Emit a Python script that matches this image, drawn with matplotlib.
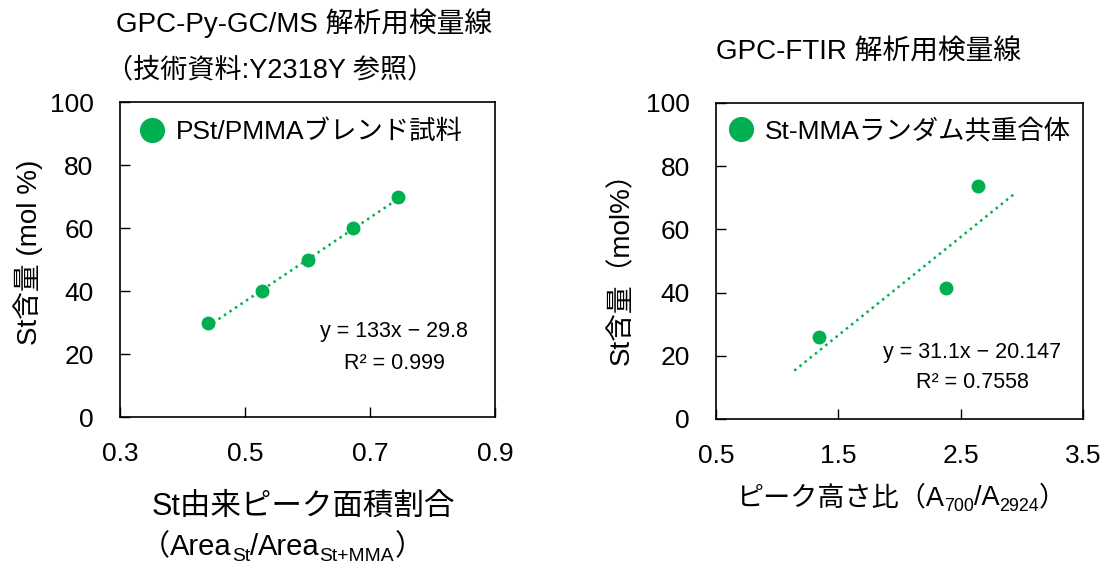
import numpy as np
import matplotlib.pyplot as plt

plt.rcParams['font.family'] = ['Liberation Sans', 'Noto Sans CJK JP']

GREEN = '#00B050'
W, H = 1105, 564

# GPC-Py-GC/MS calibration (PSt/PMMA blends)
pygc_area_ratio = [0.44, 0.527, 0.60, 0.673, 0.745]
pygc_st_content = [30, 40, 50, 60, 70]
pygc_slope, pygc_intercept, pygc_r2 = 133, -29.8, '0.999'

# GPC-FTIR calibration (St-MMA random copolymers)
ftir_peak_ratio = [1.34, 2.38, 2.64]
ftir_st_content = [25.9, 41.4, 73.7]
ftir_slope, ftir_intercept, ftir_r2 = 31.1, -20.147, '0.7558'
ftir_forecast = (0.2, 0.3)  # trendline extended backward / forward


def px(x, y):
    # pixel position -> figure fraction
    return x / W, 1 - y / H


def chain_text(ax, x, y, parts, size):
    # draws text pieces one after another on a common baseline, subscripts lowered
    prev = None
    for s, sub in parts:
        fs = size * 0.66 if sub else size
        yy = y + 6 if sub else y
        if prev is None:
            prev = ax.annotate(s, xy=px(x, yy), xycoords='figure fraction', fontsize=fs,
                               va='baseline', ha='left', annotation_clip=False)
        else:
            prev = ax.annotate(s, xy=(1, px(0, yy)[1]), xycoords=(prev, 'figure fraction'),
                               fontsize=fs, va='baseline', ha='left', annotation_clip=False)


def style_axes(ax, xticks, yticks):
    ax.set_xlim(xticks[0], xticks[-1])
    ax.set_ylim(yticks[0], yticks[-1])
    ax.set_xticks(xticks)
    ax.set_yticks(yticks)
    ax.tick_params(direction='in', length=7, width=1, labelsize=19, color='black')
    ax.tick_params(axis='x', pad=18)
    ax.tick_params(axis='y', pad=19)
    for sp in ax.spines.values():
        sp.set_linewidth(1.2)
        sp.set_color('black')


def calib_plot(ax, x, y, slope, intercept, r2, label, x_range, eq_pos):
    xx = np.linspace(x_range[0], x_range[1], 50)
    ax.plot(xx, slope * xx + intercept, ':', color=GREEN, lw=1.8, zorder=2)
    ax.plot(x, y, 'o', color=GREEN, ms=9, label=label, zorder=3)
    eq = 'y = %gx − %g' % (slope, abs(intercept))
    ax.text(eq_pos[0], eq_pos[1], eq, transform=ax.transAxes, ha='center', va='center', fontsize=15.5)
    ax.text(eq_pos[0], eq_pos[2], 'R² = ' + r2, transform=ax.transAxes, ha='center', va='center', fontsize=15.5)


fig = plt.figure(figsize=(W / 100, H / 100), dpi=100)

ax1 = fig.add_axes([0.1086, 0.2606, 0.3394, 0.5585])
calib_plot(ax1, pygc_area_ratio, pygc_st_content, pygc_slope, pygc_intercept, pygc_r2,
           'PSt/PMMAブレンド試料', (min(pygc_area_ratio), max(pygc_area_ratio)), (0.731, 0.273, 0.171))
style_axes(ax1, [0.3, 0.5, 0.7, 0.9], [0, 20, 40, 60, 80, 100])
ax1.legend(loc='center left', bbox_to_anchor=(0.051, 0.905), frameon=False, fontsize=19,
           markerscale=1.9, handlelength=1.0, handletextpad=0.4, borderpad=0, borderaxespad=0)

ax2 = fig.add_axes([0.648, 0.2571, 0.3321, 0.5603])
calib_plot(ax2, ftir_peak_ratio, ftir_st_content, ftir_slope, ftir_intercept, ftir_r2,
           'St-MMAランダム共重合体',
           (min(ftir_peak_ratio) - ftir_forecast[0], max(ftir_peak_ratio) + ftir_forecast[1]),
           (0.698, 0.212, 0.117))
style_axes(ax2, [0.5, 1.5, 2.5, 3.5], [0, 20, 40, 60, 80, 100])
ax2.legend(loc='center left', bbox_to_anchor=(0.033, 0.911), frameon=False, fontsize=19,
           markerscale=1.9, handlelength=1.0, handletextpad=0.4, borderpad=0, borderaxespad=0)

# titles
fig.text(*px(116, 23), 'GPC-Py-GC/MS 解析用検量線', fontsize=20, va='center')
fig.text(*px(106, 70), '（技術資料:Y2318Y 参照）', fontsize=19.5, va='center')
fig.text(*px(716, 53), 'GPC-FTIR 解析用検量線', fontsize=20, va='center')

# axis labels
fig.text(*px(28, 252), 'St含量 (mol %)', rotation=90, ha='center', va='center', fontsize=20)
fig.text(*px(622, 262), 'St含量（mol%）', rotation=90, ha='center', va='center', fontsize=20)
fig.text(*px(303, 507), 'St由来ピーク面積割合', ha='center', va='center', fontsize=22)
chain_text(ax1, 141, 555, [('（', False), ('Area', False), ('St', True), ('/', False),
                           ('Area', False), ('St+MMA', True), ('）', False)], 21)
chain_text(ax2, 736, 505, [('ピーク高さ比（A', False), ('700', True), ('/A', False),
                           ('2924', True), ('）', False)], 19.5)

fig.savefig('out.png', dpi=100)
